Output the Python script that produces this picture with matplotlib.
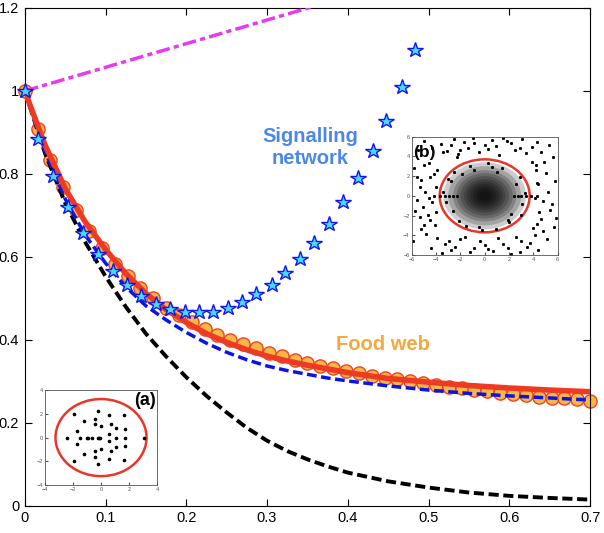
import numpy as np
import matplotlib as mpl
mpl.use('Agg')
import matplotlib.pyplot as plt
from matplotlib.patches import Ellipse

plt.rcParams['font.family'] = ['Liberation Sans', 'DejaVu Sans']

# main curves
x_curve = [0, 0.025, 0.05, 0.075, 0.1, 0.125, 0.15, 0.175, 0.2, 0.225, 0.25,
           0.275, 0.3, 0.325, 0.35, 0.375, 0.4, 0.45, 0.5, 0.55, 0.6, 0.65, 0.7]
black_y = [1.0, 0.85, 0.73, 0.635, 0.553, 0.48, 0.415, 0.36, 0.31, 0.265, 0.225,
           0.188, 0.157, 0.132, 0.112, 0.095, 0.080, 0.059, 0.044, 0.032, 0.024,
           0.019, 0.015]
blue_y = [1.0, 0.855, 0.74, 0.652, 0.585, 0.528, 0.482, 0.448, 0.418, 0.392, 0.370,
          0.352, 0.337, 0.326, 0.317, 0.308, 0.301, 0.289, 0.279, 0.271, 0.265,
          0.260, 0.255]
red_y = [1.0, 0.87, 0.765, 0.684, 0.618, 0.560, 0.512, 0.473, 0.442, 0.415, 0.394,
         0.376, 0.361, 0.349, 0.339, 0.330, 0.321, 0.307, 0.298, 0.290, 0.284,
         0.279, 0.275]
magenta_x = [0, 0.4]
magenta_y = [1.0, 1.228]

# food web (circles)
food_x = np.linspace(0, 0.7, 45)
food_y = [1.0, 0.908, 0.834, 0.769, 0.713, 0.663, 0.622, 0.582, 0.553, 0.525,
          0.500, 0.478, 0.460, 0.442, 0.426, 0.412, 0.400, 0.390, 0.380, 0.369,
          0.360, 0.352, 0.345, 0.337, 0.332, 0.325, 0.320, 0.313, 0.309, 0.305,
          0.300, 0.296, 0.291, 0.287, 0.283, 0.280, 0.276, 0.272, 0.269, 0.266,
          0.263, 0.260, 0.259, 0.257, 0.253]

# signalling network (stars)
sig_x = [0, 0.0165, 0.035, 0.054, 0.072, 0.091, 0.109, 0.126, 0.144, 0.162,
         0.180, 0.198, 0.216, 0.233, 0.252, 0.269, 0.286, 0.306, 0.322, 0.341,
         0.358, 0.377, 0.394, 0.413, 0.431, 0.447, 0.467, 0.483]
sig_y = [1.0, 0.884, 0.794, 0.721, 0.657, 0.607, 0.565, 0.533, 0.506, 0.486,
         0.474, 0.468, 0.466, 0.468, 0.476, 0.491, 0.511, 0.533, 0.561, 0.594,
         0.634, 0.680, 0.732, 0.791, 0.856, 0.928, 1.009, 1.099]

# inset (a) eigenvalues
a_re = [-1.9, -0.18, 0.58, 1.63, -1.18, -0.42, -0.42, -0.01, 0.73, 1.04, 1.68,
        -1.73, 0.58, -2.4, -1.47, -1.0, -0.95, -0.63, -0.23, -0.13, -0.04, 1.1,
        1.68, 3.04, -1.73, 0.6, 1.04, 1.68, -0.01, 0.73, -0.42, -1.18, -0.42,
        0.58, 1.63, -1.9, -0.18]
a_im = [2.03, 2.26, 1.87, 1.92, 1.42, 1.56, 1.13, 0.99, 1.16, 0.83, 0.71,
        0.57, 0.29, 0.0, 0.0, 0.0, 0.0, 0.0, 0.0, 0.0, 0.0, 0.0,
        0.0, 0.0, -0.55, -0.27, -0.83, -0.72, -0.97, -1.11, -1.11, -1.39, -1.62,
        -1.84, -1.9, -1.98, -2.26]
a_radius = 3.25

# inset (b) eigenvalues: visible scattered points (the dense core is shaded)
b_re = [-2.8, -2.0, -1.7, -0.9, 0.0, 0.6, 1.5, 2.2, 2.9, 3.9, 4.3, -2.3, -3.4,
        -3.9, -5.0, -5.2, -5.3, -5.6, -5.1, -5.3, -5.0, -4.8, -3.9, -3.3, -2.8,
        -2.0, -0.9, 0.0, 0.7, 1.5, 2.2, 3.0, 3.5, 4.1, 4.3, 4.5, 4.3, 4.2, 3.9,
        -4.0, -4.5, 5.2, 5.5, -5.5, -4.4, 4.8,
        -5.0, -4.3, -3.6, -3.1, -2.5, -2.2, -1.4, -1.0, -0.5, 0.3, 0.9, 1.2, 1.8,
        2.5, 3.1, 3.4, 4.6, 5.3, 5.6,
        -5.8, -4.6, -4.2, -5.6, -4.9, -4.3, -5.7, -4.5, -5.2, -4.1, -5.9, -4.7,
        -4.0, -4.6,
        -3.5, -2.9, -2.4, -1.6, -1.2, -0.4, 0.3, 1.1, 1.9, 2.6, 2.9, 3.7, 4.4,
        5.1, 5.7,
        4.2, 5.0, 4.4, 5.8, 4.1, 5.4, 4.6, 4.0, 5.9, 4.9, 4.8,
        2.6, -2.8, 3.1, -3.2, 1.4, -1.2, 0.3, -0.5, 1.9, -2.1, 2.9, -2.5, 3.3,
        -3.4, 0.9, -1.5, 2.2, -2.6, 1.0, -0.9, 2.0, -1.9, 3.0, -3.0, 0.6, -0.2,
        -4.2, -3.7, -3.3, -2.9, -2.6, -2.3, 2.4, 2.7, 3.0, 3.4, 3.8, 4.3]
b_im = [5.2, 4.6, 5.5, 5.4, 5.2, 5.7, 5.9, 5.4, 4.9, 5.0, 5.5, 3.9, 4.4,
        2.6, 3.1, 1.6, 0.9, -0.4, -1.1, -2.1, -3.0, -3.9, -4.3, -4.9, -5.5,
        -4.4, -5.3, -5.0, -5.6, -4.9, -5.9, -4.6, -5.2, -4.0, -2.9, -1.6, 1.3,
        2.6, 3.4, -1.6, 1.9, 0.4, -0.8, 4.6, -5.3, -3.6,
        5.6, 4.9, 5.3, 4.5, 5.8, 4.2, 4.8, 5.9, 4.4, 4.7, 5.1, 4.1, 5.6,
        4.6, 5.8, 4.3, 4.4, 5.2, 3.9,
        2.8, 3.3, 2.2, 1.9, 0.4, -0.6, -1.5, -2.5, -3.4, -3.0, -4.6, -1.9,
        0.9, -0.2,
        -5.8, -4.6, -5.2, -4.2, -5.7, -4.6, -5.4, -4.3, -5.3, -4.2, -5.7, -4.8,
        -5.5, -4.4, -3.2,
        3.1, 2.3, 1.2, 1.5, -0.2, -1.4, -2.4, -3.3, -2.2, 3.4, -0.5,
        1.2, 1.5, -0.8, -0.6, 2.8, 3.0, 3.3, -3.2, -2.5, -2.6, 1.9, 2.4, 0.3,
        0.4, -3.4, -3.1, -1.8, -1.5, 2.4, 2.6, -2.7, 2.2, -1.9, 1.7, 2.9, -3.5,
        0.0, 0.0, 0.0, 0.0, 0.0, 0.0, 0.0, 0.0, 0.0, 0.0, 0.0, 0.0]
b_radius = 3.7

fig = plt.figure(figsize=(6.04, 5.33), dpi=100)
ax = fig.add_axes([0.041, 0.051, 0.936, 0.934])

ax.plot(food_x, food_y, 'o', ms=9.5, mfc='#F7B945', mec='#EE4422', mew=1.0,
        zorder=2, clip_on=False)
ax.plot(x_curve, black_y, color='black', lw=2.8, dashes=(2.6, 1.2), zorder=3)
ax.plot(x_curve, blue_y, color='#0A14E6', lw=2.5, dashes=(2.8, 1.3), zorder=3)
ax.plot(x_curve, red_y, color='#EE3A24', lw=4, zorder=4)
ax.plot(sig_x, sig_y, '*', ms=11.5, mfc='#44DDF5', mec='#1414F0', mew=1.0,
        zorder=5, clip_on=False)
ax.plot(magenta_x, magenta_y, color='#E63CF0', lw=2.5, dashes=(4, 1.2, 1.5, 1.2), zorder=4)

ax.set_xlim(0, 0.7)
ax.set_ylim(0, 1.2)
ax.set_xticks(np.arange(0, 0.71, 0.1))
ax.set_xticklabels(['0', '0.1', '0.2', '0.3', '0.4', '0.5', '0.6', '0.7'])
ax.set_yticks(np.arange(0, 1.21, 0.2))
ax.set_yticklabels(['0', '0.2', '0.4', '0.6', '0.8', '1', '1.2'])
ax.tick_params(direction='in', top=True, right=True, length=5, labelsize=10.5,
               colors='black', pad=4)

ax.text(0.353, 0.864, 'Signalling\nnetwork', color='#4D88E8', fontsize=14.5,
        fontweight='bold', ha='center', va='center')
ax.text(0.4436, 0.388, 'Food web', color='#F4A93A', fontsize=14.5,
        fontweight='bold', ha='center', va='center')

# inset (a)
axa = fig.add_axes([0.0745, 0.090, 0.1855, 0.178])
axa.plot(a_re, a_im, 'o', ms=1.6, color='black')
axa.add_patch(Ellipse((0, 0), 2 * a_radius, 2 * a_radius, fill=False,
                      ec='#E8372A', lw=1.8))
axa.set_xlim(-4, 4)
axa.set_ylim(-4, 4)
axa.set_xticks([-4, -2, 0, 2, 4])
axa.set_yticks([-4, -2, 0, 2, 4])
axa.tick_params(direction='in', length=2, labelsize=4, colors='#555555', pad=1.5)
for s in axa.spines.values():
    s.set_color('#555555')
    s.set_linewidth(0.6)
axa.text(0.99, 0.98, '(a)', transform=axa.transAxes, ha='right', va='top',
         fontsize=13, fontweight='bold')

# inset (b): dense core shaded, scattered points plotted
axb = fig.add_axes([0.6816, 0.5216, 0.2417, 0.222])
for r in [3.4, 3.0, 2.6, 2.3, 2.0, 1.7, 1.45, 1.2, 0.95, 0.7, 0.45]:
    axb.add_patch(Ellipse((0, 0), 2 * r, 2 * r, color='black', alpha=0.2, lw=0))
axb.plot(b_re, b_im, 's', ms=1.1, color='black')
axb.add_patch(Ellipse((0, 0), 2 * b_radius, 2 * b_radius, fill=False,
                      ec='#E8372A', lw=1.8))
axb.set_xlim(-6, 6)
axb.set_ylim(-6, 6)
axb.set_xticks([-6, -4, -2, 0, 2, 4, 6])
axb.set_yticks([-6, -4, -2, 0, 2, 4, 6])
axb.tick_params(direction='in', length=2, labelsize=4, colors='#555555', pad=1.5)
for s in axb.spines.values():
    s.set_color('#555555')
    s.set_linewidth(0.6)
axb.text(0.01, 0.93, '(b)', transform=axb.transAxes, ha='left', va='top',
         fontsize=12.5, fontweight='bold')

fig.savefig('out.png', dpi=100)
